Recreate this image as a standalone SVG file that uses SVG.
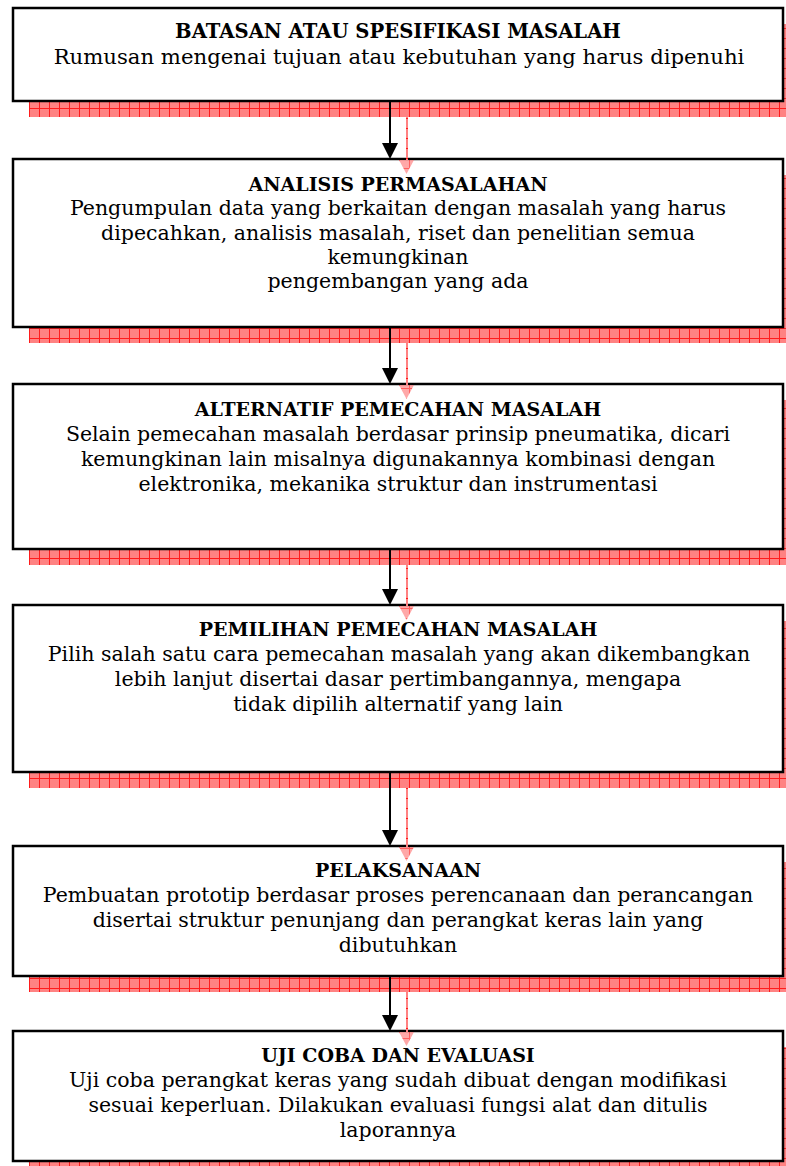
<svg xmlns="http://www.w3.org/2000/svg" width="786" height="1166" viewBox="0 0 786 1166">
<defs>
<pattern id="hatch" width="10" height="10" patternUnits="userSpaceOnUse" patternTransform="translate(29,8)">
<rect width="10" height="10" fill="#ff8282"/>
<rect x="0" y="0" width="10" height="1" fill="#ff1c1c"/>
<rect x="0" y="0" width="1" height="10" fill="#ff1c1c"/>
</pattern>
<style>
.shadow{fill:url(#hatch);stroke:none}
.box{fill:#ffffff;stroke:#000000;stroke-width:2.5}
.title{font-family:"DejaVu Serif","Liberation Serif",serif;font-weight:bold;font-size:19px;text-anchor:middle;fill:#000}
.body{font-family:"DejaVu Serif","Liberation Serif",serif;font-size:20.5px;text-anchor:middle;fill:#000}
.big.title{font-size:19.6px}
.big.body{font-size:21.2px}
.aline{stroke:#000;stroke-width:2;fill:none}
.ahead{fill:#000}
.sline{fill:url(#hatch)}
.shead{fill:url(#hatch);opacity:0.7}
</style>
</defs>
<rect width="786" height="1166" fill="#ffffff"/>

<g id="shadows">
<rect class="shadow" x="29" y="24" width="770" height="93"/>
<rect class="shadow" x="29" y="175" width="770" height="168"/>
<rect class="shadow" x="29" y="400" width="770" height="165"/>
<rect class="shadow" x="29" y="621" width="770" height="167"/>
<rect class="shadow" x="29" y="862" width="770" height="130"/>
<rect class="shadow" x="29" y="1047" width="770" height="130"/>
</g>

<g id="node1">
<rect class="box" x="13" y="8" width="770" height="93"/>
<text class="title big" x="398" y="38">BATASAN ATAU SPESIFIKASI MASALAH</text>
<text class="body big" x="399" y="64">Rumusan mengenai tujuan atau kebutuhan yang harus dipenuhi</text>
</g>

<g id="node2">
<rect class="box" x="13" y="159" width="770" height="168"/>
<text class="title" x="398" y="191">ANALISIS PERMASALAHAN</text>
<text class="body" x="398" y="215">Pengumpulan data yang berkaitan dengan masalah yang harus</text>
<text class="body" x="398" y="240">dipecahkan, analisis masalah, riset dan penelitian semua</text>
<text class="body" x="398" y="264">kemungkinan</text>
<text class="body" x="398" y="288">pengembangan yang ada</text>
</g>

<g id="node3">
<rect class="box" x="13" y="384" width="770" height="165"/>
<text class="title" x="398" y="416">ALTERNATIF PEMECAHAN MASALAH</text>
<text class="body" x="398" y="441">Selain pemecahan masalah berdasar prinsip pneumatika, dicari</text>
<text class="body" x="398" y="466">kemungkinan lain misalnya digunakannya kombinasi dengan</text>
<text class="body" x="398" y="491">elektronika, mekanika struktur dan instrumentasi</text>
</g>

<g id="node4">
<rect class="box" x="13" y="605" width="770" height="167"/>
<text class="title" x="398" y="636">PEMILIHAN PEMECAHAN MASALAH</text>
<text class="body" x="399" y="661">Pilih salah satu cara pemecahan masalah yang akan dikembangkan</text>
<text class="body" x="398" y="686">lebih lanjut disertai dasar pertimbangannya, mengapa</text>
<text class="body" x="398" y="711">tidak dipilih alternatif yang lain</text>
</g>

<g id="node5">
<rect class="box" x="13" y="846" width="770" height="130"/>
<text class="title" x="398" y="877">PELAKSANAAN</text>
<text class="body" x="398" y="902">Pembuatan prototip berdasar proses perencanaan dan perancangan</text>
<text class="body" x="398" y="927">disertai struktur penunjang dan perangkat keras lain yang</text>
<text class="body" x="398" y="952">dibutuhkan</text>
</g>

<g id="node6">
<rect class="box" x="13" y="1031" width="770" height="130"/>
<text class="title" x="398" y="1062">UJI COBA DAN EVALUASI</text>
<text class="body" x="398" y="1087">Uji coba perangkat keras yang sudah dibuat dengan modifikasi</text>
<text class="body" x="398" y="1112">sesuai keperluan. Dilakukan evaluasi fungsi alat dan ditulis</text>
<text class="body" x="398" y="1137">laporannya</text>
</g>

<g id="connectors">
<g id="connector-shadows">
<rect class="sline" x="406" y="117" width="2" height="43"/>
<polygon class="shead" points="399,160 414,160 406.5,174"/>
<rect class="sline" x="406" y="343" width="2" height="42"/>
<polygon class="shead" points="399,385 414,385 406.5,399"/>
<rect class="sline" x="406" y="565" width="2" height="41"/>
<polygon class="shead" points="399,606 414,606 406.5,620"/>
<rect class="sline" x="406" y="788" width="2" height="59"/>
<polygon class="shead" points="399,847 414,847 406.5,861"/>
<rect class="sline" x="406" y="992" width="2" height="40"/>
<polygon class="shead" points="399,1032 414,1032 406.5,1046"/>
</g>
<line class="aline" x1="390" y1="101" x2="390" y2="145"/>
<polygon class="ahead" points="382,143 398,143 390,159"/>
<line class="aline" x1="390" y1="327" x2="390" y2="370"/>
<polygon class="ahead" points="382,368 398,368 390,384"/>
<line class="aline" x1="390" y1="549" x2="390" y2="591"/>
<polygon class="ahead" points="382,589 398,589 390,605"/>
<line class="aline" x1="390" y1="772" x2="390" y2="832"/>
<polygon class="ahead" points="382,830 398,830 390,846"/>
<line class="aline" x1="390" y1="976" x2="390" y2="1017"/>
<polygon class="ahead" points="382,1015 398,1015 390,1031"/>
</g>
</svg>
